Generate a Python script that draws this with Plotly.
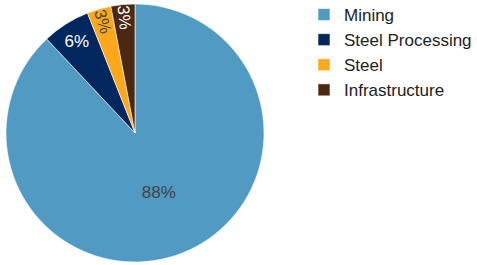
import plotly.graph_objects as go

labels = ["Mining", "Steel Processing", "Steel", "Infrastructure"]
values = [88, 6, 3, 3]
colors = ["#509AC4", "#00285E", "#FCA81A", "#4B2812"]

W, H = 477, 265
fig = go.Figure(go.Pie(
    labels=labels, values=values,
    marker=dict(colors=colors, line=dict(color="white", width=0.6)),
    textinfo="percent", texttemplate="%{percent:.0%}",
    textposition="inside",
    insidetextorientation="auto",
    textfont=dict(family="Liberation Sans, Arial, sans-serif", size=17),
    sort=False, direction="clockwise", rotation=0,
    domain=dict(x=[6/W, 264/W], y=[3/H, 261/H]),
))
fig.update_layout(
    width=W, height=H,
    margin=dict(l=0, r=0, t=0, b=0, autoexpand=False),
    paper_bgcolor="white",
    font=dict(family="Liberation Sans, Arial, sans-serif", size=17, color="#222"),
    legend=dict(x=304/W, y=1 + 3/H, xanchor="left", yanchor="top",
                font=dict(size=17, color="#222"), tracegroupgap=0),
)
fig.write_html("out.html", config={"displayModeBar": False},
               post_script="document.body.style.margin='0';")
